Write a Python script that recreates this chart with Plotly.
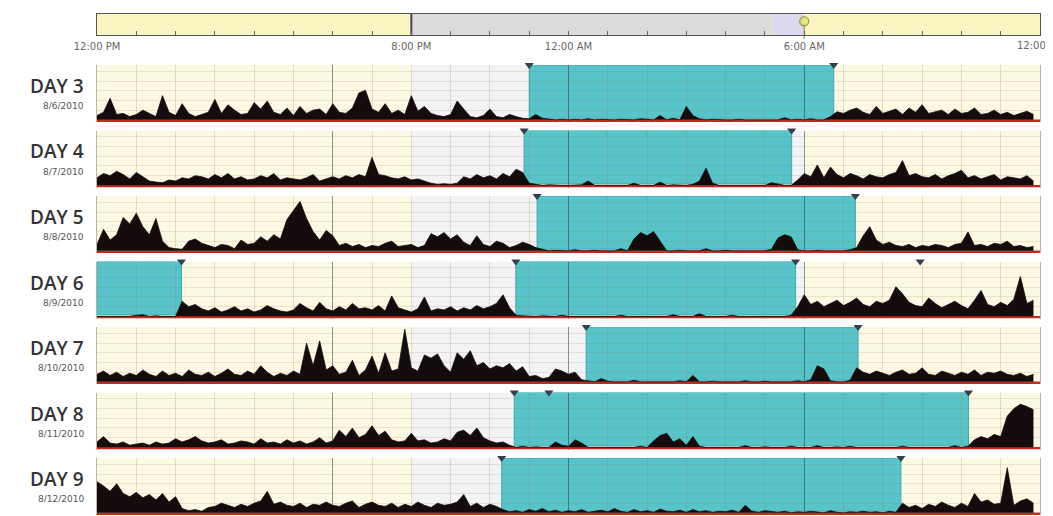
import numpy as np
import plotly.graph_objects as go

# ---------------- data ----------------
day_labels = ["DAY 3", "DAY 4", "DAY 5", "DAY 6", "DAY 7", "DAY 8", "DAY 9"]
day_dates = ["8/6/2010", "8/7/2010", "8/8/2010", "8/9/2010", "8/10/2010", "8/11/2010", "8/12/2010"]

# hours after 12:00 PM
top_tick_hours = [0, 8, 12, 18, 24]
top_tick_text = ["12:00 PM", "8:00 PM", "12:00 AM", "6:00 AM", "12:00 PM"]

# rest intervals (start hour, end hour) per day
rest_intervals = [
    [(11.0, 18.75)],
    [(10.87, 17.68)],
    [(11.2, 19.3)],
    [(0.0, 2.15), (10.66, 17.78)],
    [(12.45, 19.37)],
    [(10.62, 22.18)],
    [(10.3, 20.46)],
]
extra_markers = [[], [], [], [20.95], [], [11.5], []]

# activity, 10-minute bins starting at 12:00 PM (percent of panel height)
act_day3 = [
    8, 14, 40, 10, 12, 6,   10, 18, 12, 6, 45, 14,   8, 30, 12, 6, 10, 14,   38, 12, 28, 18, 10, 12,
    32, 20, 35, 14, 10, 22,  8, 25, 12, 18, 20, 10,  30, 14, 12, 22, 50, 55,  20, 14, 30, 12, 18, 10,
    45, 16, 25, 12, 8, 6,   10, 35, 20, 6, 4, 8,    20, 6, 4, 10, 6, 3,      2, 10, 3, 1, 0, 1,
    0, 1, 0, 2, 0, 1,       0, 0, 1, 0, 0, 2,      1, 0, 8, 0, 3, 0,        25, 8, 2, 0, 1, 0,
    0, 0, 1, 0, 0, 0,       1, 0, 0, 4, 0, 1,      0, 2, 0, 0, 6, 15,       12, 18, 22, 14, 10, 25,
    12, 16, 20, 10, 22, 14, 28, 12, 15, 18, 10, 20, 12, 14, 22, 10, 12, 18,  10, 14, 8, 12, 16, 10,
]
act_day4 = [
    14, 22, 18, 26, 20, 12, 24, 16, 8, 6, 5, 10,   8, 14, 12, 18, 16, 12,  20, 14, 22, 12, 16, 10,
    12, 18, 14, 22, 10, 14, 12, 10, 14, 20, 8, 12, 16, 12, 18, 14, 20, 16, 52, 20, 18, 14, 12, 16,
    10, 12, 8, 4, 2, 3,     2, 4, 16, 12, 20, 14,  18, 12, 22, 16, 30, 24,  4, 2, 0, 1, 0, 0,
    0, 0, 1, 8, 0, 0,       0, 1, 0, 0, 4, 0,      0, 0, 6, 0, 1, 0,        0, 2, 8, 32, 4, 0,
    0, 0, 1, 0, 0, 0,       0, 5, 2, 0, 0, 10,     22, 16, 38, 14, 34, 20,  14, 22, 18, 12, 20, 16,
    14, 20, 24, 46, 18, 22, 16, 14, 20, 12, 18, 22, 28, 14, 18, 12, 16, 20, 10, 16, 14, 12, 18, 8,
]
act_day5 = [
    12, 40, 20, 30, 62, 50, 70, 45, 30, 60, 18, 6,  4, 3, 18, 22, 14, 10,   6, 12, 10, 4, 20, 12,
    14, 26, 18, 30, 22, 58, 75, 92, 60, 36, 20, 38, 28, 10, 14, 8, 12, 6,   10, 8, 14, 18, 8, 10,
    12, 6, 10, 32, 26, 34,  22, 30, 16, 10, 28, 12, 8, 18, 14, 6, 10, 16,   12, 6, 3, 0, 1, 0,
    0, 2, 0, 0, 1, 0,       0, 0, 4, 0, 22, 34,     28, 36, 18, 0, 0, 1,     0, 0, 0, 4, 0, 0,
    1, 0, 0, 0, 0, 0,       0, 3, 24, 30, 26, 2,    0, 0, 1, 0, 0, 0,        0, 2, 6, 28, 45, 20,
    12, 16, 10, 8, 12, 6,   10, 8, 12, 10, 6, 12,   14, 35, 10, 12, 8, 14,   12, 18, 8, 10, 6, 8,
]
act_day6 = [
    0, 0, 0, 0, 0, 0,       2, 3, 0, 1, 0, 0,       0, 28, 18, 22, 14, 10,  16, 8, 12, 18, 10, 14,
    8, 12, 20, 14, 10, 8,   12, 24, 16, 10, 26, 14, 10, 18, 12, 24, 14, 16, 12, 20, 10, 38, 16, 12,
    8, 14, 36, 10, 14, 12,  18, 10, 16, 12, 20, 14, 18, 24, 40, 16, 2, 1,   0, 0, 1, 0, 0, 2,
    0, 0, 0, 1, 0, 0,       0, 0, 2, 0, 0, 0,       1, 0, 0, 0, 3, 0,       0, 0, 5, 0, 0, 0,
    0, 2, 0, 0, 0, 1,       0, 0, 0, 0, 2, 18,      40, 22, 28, 18, 24, 30, 20, 26, 34, 22, 18, 28,
    24, 30, 55, 42, 26, 20, 18, 34, 24, 16, 22, 28, 20, 14, 30, 48, 22, 18, 26, 20, 32, 74, 24, 30,
]
act_day7 = [
    14, 20, 12, 18, 10, 16, 12, 22, 14, 10, 20, 12, 16, 10, 22, 14, 12, 18, 10, 16, 24, 14, 12, 20,
    14, 30, 18, 10, 16, 12, 20, 14, 72, 30, 76, 22, 30, 14, 18, 40, 12, 22, 48, 16, 54, 20, 24, 98,
    26, 20, 50, 44, 52, 30, 18, 54, 42, 58, 30, 36, 24, 30, 26, 34, 20, 28, 10, 12, 6, 8, 24, 20,
    14, 18, 4, 2, 0, 6,     1, 0, 0, 0, 3, 0,       0, 0, 1, 0, 0, 2,       0, 12, 0, 0, 1, 0,
    0, 0, 0, 2, 0, 0,       1, 0, 0, 0, 0, 2,       0, 4, 30, 24, 2, 0,     0, 3, 26, 18, 14, 20,
    16, 12, 18, 22, 14, 16, 26, 14, 12, 20, 16, 12, 18, 14, 22, 12, 18, 16, 20, 14, 12, 16, 10, 14,
]
act_day8 = [
    10, 20, 8, 6, 10, 4,    6, 8, 4, 10, 6, 8,      16, 10, 14, 20, 12, 8,  10, 14, 6, 8, 12, 10,
    6, 16, 8, 10, 6, 14,    8, 12, 6, 10, 18, 8,    12, 32, 20, 36, 18, 24, 40, 22, 30, 14, 10, 12,
    26, 12, 14, 8, 10, 16,  12, 28, 32, 22, 36, 18, 12, 8, 10, 4, 0, 2,     0, 1, 0, 0, 10, 4,
    2, 14, 8, 0, 0, 0,      0, 1, 0, 0, 0, 2,       0, 12, 22, 26, 10, 16,  4, 20, 2, 0, 0, 1,
    0, 0, 0, 3, 0, 0,       1, 0, 0, 0, 2, 0,       0, 0, 3, 0, 0, 1,       0, 2, 0, 0, 0, 0,
    1, 0, 0, 2, 0, 0,       0, 0, 1, 0, 0, 3,       0, 2, 14, 20, 16, 24,   20, 58, 72, 80, 76, 70,
]
act_day9 = [
    58, 50, 40, 54, 36, 30, 38, 28, 34, 24, 36, 20, 30, 8, 4, 6, 3, 10,    12, 18, 14, 10, 16, 12,
    18, 22, 40, 16, 20, 14, 12, 18, 10, 16, 14, 20, 14, 12, 18, 22, 10, 16, 20, 14, 12, 18, 10, 16,
    12, 20, 14, 10, 18, 14, 16, 20, 34, 12, 18, 10, 16, 12, 6, 2, 4, 1,     6, 3, 8, 2, 5, 1,
    4, 2, 6, 1, 3, 5,       2, 8, 3, 1, 6, 2,       4, 1, 7, 3, 2, 5,       1, 6, 2, 4, 1, 3,
    2, 5, 1, 14, 3, 1,      4, 2, 1, 3, 0, 2,       1, 3, 2, 0, 4, 1,       0, 2, 1, 3, 1, 2,
    0, 3, 1, 18, 10, 14,    8, 16, 12, 20, 14, 10,  18, 12, 36, 20, 24, 16, 18, 84, 14, 22, 26, 18,
]
activity = [act_day3, act_day4, act_day5, act_day6, act_day7, act_day8, act_day9]

# top summary bar segments (start hour, end hour, kind)
bar_segments = [(0, 8, "day"), (8, 17.2, "night"), (17.2, 18, "dusk"), (18, 24, "day")]

# ---------------- layout helpers ----------------
OFF = 8                      # page body margin of the html page
W, H = 1053 - OFF, 516 - OFF
X0, X1 = 97, 1040
DAY_BG = "#fbf8e3"
NIGHT_BG = "#f3f2f5"
REST = "#58c3c9"
TICK_FONT = dict(size=10, color="#666", family="DejaVu Sans")


def px_x(p):
    return (p - OFF) / W


def px_y(p):
    return 1 - (p - OFF) / H


fig = go.Figure()
shapes = []
annotations = []
layout_axes = {}

# top bar axis (last label drawn as annotation; it runs off the page edge as in the original)
tick_lookup = dict(zip(top_tick_hours[:-1], top_tick_text[:-1]))
layout_axes["xaxis"] = dict(
    domain=[px_x(X0), px_x(X1)], range=[0, 24], anchor="y", automargin=False,
    tickvals=list(range(25)),
    ticktext=[tick_lookup.get(h, "") for h in range(25)],
    ticks="inside", ticklen=4, tickcolor="#666", tickwidth=1, ticklabelstandoff=2,
    tickfont=TICK_FONT,
    showgrid=False, zeroline=False, showline=True, linecolor="#555", mirror=True, fixedrange=True,
)
layout_axes["yaxis"] = dict(
    domain=[px_y(35), px_y(14)], range=[0, 1], anchor="x", automargin=False,
    showticklabels=False, showgrid=False, zeroline=False, showline=True, linecolor="#555", mirror=True,
)
annotations.append(dict(xref="x", yref="paper", x=top_tick_hours[-1], y=px_y(38),
                        text=top_tick_text[-1], showarrow=False, xanchor="center", yanchor="top",
                        font=TICK_FONT))
seg_colors = {"day": "#f9f4c2", "night": "#dddcdc", "dusk": "#dcd8ee"}
for s, e, kind in bar_segments:
    shapes.append(dict(type="rect", xref="x", yref="y", x0=s, x1=e, y0=0, y1=1,
                       fillcolor=seg_colors[kind], line=dict(width=0), layer="below"))

fig.add_trace(go.Scatter(x=[8], y=[0.5], mode="markers", xaxis="x", yaxis="y",
                         marker=dict(symbol="line-ns", size=16, line=dict(color="#445", width=2)),
                         showlegend=False, hoverinfo="skip", cliponaxis=False))
fig.add_trace(go.Scatter(x=[18, 18], y=[0.65, 0.15], mode="markers", xaxis="x", yaxis="y",
                         marker=dict(symbol=["circle", "line-ns"], size=[9, 10], color="#e8e070",
                                     line=dict(color="#8a8a20", width=1.5)),
                         showlegend=False, hoverinfo="skip", cliponaxis=False))

# panels
PANEL_TOP0 = 65
PANEL_STEP = 65.5
PANEL_H = 57
hours = np.arange(144) / 6.0

for i in range(7):
    n = i + 2
    xa, ya = f"x{n}", f"y{n}"
    top = PANEL_TOP0 + PANEL_STEP * i
    bot = min(top + PANEL_H, 515)
    layout_axes[f"xaxis{n}"] = dict(
        domain=[px_x(X0), px_x(X1)], range=[0, 24], anchor=ya, automargin=False,
        showticklabels=False, ticks="", dtick=6, tick0=0,
        showgrid=True, gridcolor="rgba(45,60,60,0.55)", gridwidth=1,
        minor=dict(dtick=1, showgrid=True, gridcolor="rgba(140,110,50,0.2)", gridwidth=1),
        zeroline=False, showline=False, fixedrange=True,
    )
    layout_axes[f"yaxis{n}"] = dict(
        domain=[px_y(bot), px_y(top)], range=[-4, 102], anchor=xa, automargin=False,
        showticklabels=False, ticks="", tickvals=[18, 36, 54, 72, 90],
        showgrid=True, gridcolor="rgba(150,120,60,0.16)", gridwidth=1,
        zeroline=False, showline=True, linecolor="#b8b4a8", mirror=True, fixedrange=True,
    )
    # backgrounds
    for s, e, col in [(0, 8, DAY_BG), (8, 18, NIGHT_BG), (18, 24, DAY_BG)]:
        shapes.append(dict(type="rect", xref=xa, yref=ya, x0=s, x1=e, y0=-4, y1=102,
                           fillcolor=col, line=dict(width=0), layer="below"))
    # rest intervals
    mk_x = []
    for s, e in rest_intervals[i]:
        shapes.append(dict(type="rect", xref=xa, yref=ya, x0=s, x1=e, y0=3, y1=102,
                           fillcolor=REST, line=dict(width=1, color="#3fa9b1"), layer="below"))
        if s > 0.01:
            mk_x.append(s)
        mk_x.append(e)
    mk_x += extra_markers[i]
    # red baseline
    shapes.append(dict(type="line", xref=xa, yref=ya, x0=0, x1=24, y0=-1.5, y1=-1.5,
                       line=dict(color="#c62a1f", width=2.5), layer="between"))
    # activity
    fig.add_trace(go.Scatter(x=hours, y=activity[i], xaxis=xa, yaxis=ya, mode="lines",
                             line=dict(color="#140c0c", width=0.8), fill="tozeroy",
                             fillcolor="#140c0c", showlegend=False, hoverinfo="skip"))
    # interval markers
    fig.add_trace(go.Scatter(x=mk_x, y=[102] * len(mk_x), xaxis=xa, yaxis=ya, mode="markers",
                             marker=dict(symbol="triangle-down", size=8, color="#34404f"),
                             showlegend=False, hoverinfo="skip", cliponaxis=False))
    # labels
    annotations.append(dict(xref="paper", yref="paper", x=px_x(86), y=px_y(top + 21),
                            text=day_labels[i], showarrow=False, xanchor="right", yanchor="middle",
                            font=dict(size=19, color="#333", family="Open Sans", weight=600)))
    annotations.append(dict(xref="paper", yref="paper", x=px_x(86), y=px_y(top + 41),
                            text=day_dates[i], showarrow=False, xanchor="right", yanchor="middle",
                            font=dict(size=9, color="#555", family="DejaVu Sans")))

fig.update_layout(
    width=W, height=H, margin=dict(l=0, r=0, t=0, b=0, autoexpand=False),
    paper_bgcolor="white", plot_bgcolor="white",
    shapes=shapes, annotations=annotations, showlegend=False,
    **layout_axes,
)
fig.write_html("out.html")
